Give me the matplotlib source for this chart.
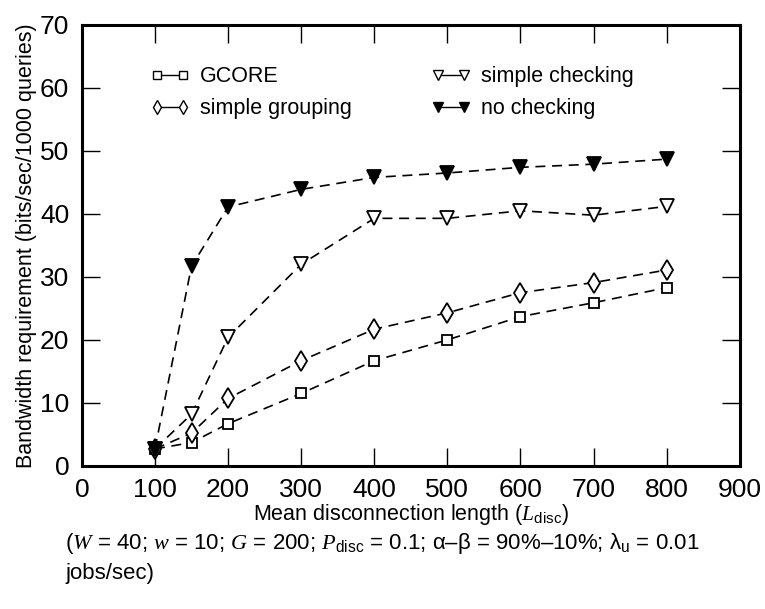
import matplotlib
matplotlib.use("Agg")
import matplotlib.pyplot as plt
from matplotlib.lines import Line2D

# ---- data ----
disc_length = [100, 150, 200, 300, 400, 500, 600, 700, 800]
gcore = [2.7, 3.7, 6.7, 11.5, 16.7, 20.0, 23.7, 25.9, 28.3]
simple_grouping = [2.7, 5.2, 10.7, 16.7, 21.7, 24.3, 27.5, 29.1, 31.1]
simple_checking = [2.7, 8.2, 20.4, 32.0, 39.3, 39.3, 40.5, 39.8, 41.2]
no_checking = [2.7, 31.7, 41.1, 43.9, 45.8, 46.5, 47.4, 47.9, 48.7]

x_ticks = [0, 100, 200, 300, 400, 500, 600, 700, 800, 900]
y_ticks = [0, 10, 20, 30, 40, 50, 60, 70]

plt.rcParams['font.family'] = ['Liberation Sans', 'DejaVu Sans']
plt.rcParams['mathtext.fontset'] = 'custom'
plt.rcParams['mathtext.rm'] = 'Liberation Sans'
plt.rcParams['mathtext.it'] = 'Liberation Serif:italic'

fig = plt.figure(figsize=(7.65, 6.09), dpi=100)
ax = fig.add_axes([0.107, 0.235, 0.86, 0.724])

dash = (0, (6, 4))
common = dict(color='black', lw=1.2, linestyle=dash,
              markeredgewidth=1.3, markeredgecolor='black')
ax.plot(disc_length, gcore, marker='s', markerfacecolor='white', markersize=7.5, **common)
ax.plot(disc_length, simple_grouping, marker='d', markerfacecolor='white', markersize=10.5, **common)
ax.plot(disc_length, simple_checking, marker='v', markerfacecolor='white', markersize=9.5, **common)
ax.plot(disc_length, no_checking, marker='v', markerfacecolor='black', markersize=9.5, **common)

ax.set_xlim(0, 900)
ax.set_ylim(0, 70)
ax.set_xticks(x_ticks)
ax.set_yticks(y_ticks)
ax.tick_params(direction='in', length=13, width=1, labelsize=19, pad=9,
               top=True, right=True)
for sp in ax.spines.values():
    sp.set_linewidth(2.2)

ax.set_xlabel('Mean disconnection length ($L_{\\mathrm{disc}}$)', fontsize=15.5, labelpad=0)
ax.set_ylabel('Bandwidth requirement (bits/sec/1000 queries)', fontsize=15.5, labelpad=2)

# legend with marker - marker handles
def handle(m, fc, ms):
    return Line2D([], [], color='black', lw=1.0, marker=m, markerfacecolor=fc,
                  markeredgecolor='black', markersize=ms, markeredgewidth=1.0)

handles = [handle('s', 'white', 6), handle('d', 'white', 7),
           handle('v', 'white', 7), handle('v', 'black', 7)]
labels = ['GCORE', 'simple grouping', 'simple checking', 'no checking']
ax.legend(handles, labels, ncol=2, loc='upper left', bbox_to_anchor=(0.075, 0.95),
          frameon=False, fontsize=15.5, numpoints=2, handlelength=1.8,
          handletextpad=0.5, columnspacing=3.7, labelspacing=0.5)

fig.text(0.085, 0.107,
         '($\\mathit{W}$ = 40; $\\mathit{w}$ = 10; $\\mathit{G}$ = 200; '
         '$\\mathit{P}_{\\mathrm{disc}}$ = 0.1; \u03b1\u2013\u03b2 = 90%\u201310%; '
         '\u03bb$_{\\mathrm{u}}$ = 0.01',
         fontsize=16, ha='left', va='center')
fig.text(0.085, 0.058, 'jobs/sec)', fontsize=16, ha='left', va='center')

fig.savefig('out.png', dpi=100)
